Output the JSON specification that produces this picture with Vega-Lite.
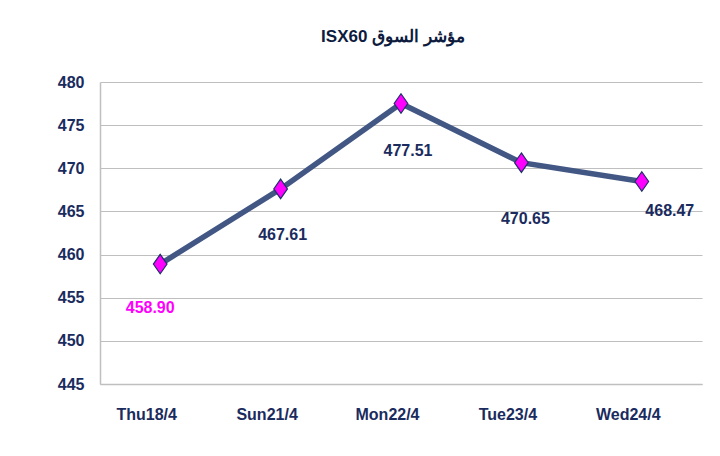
{
  "$schema": "https://vega.github.io/schema/vega-lite/v6.json",
  "autosize": "none",
  "width": 602,
  "height": 302,
  "padding": {"left": 100, "top": 82, "right": 18, "bottom": 72},
  "background": "white",
  "title": {
    "text": "ISX60  مؤشر السوق",
    "anchor": "middle",
    "offset": 28,
    "fontSize": 17,
    "font": "Liberation Sans",
    "fontWeight": "bold",
    "color": "#0d1b3e",
    "dx": -8
  },
  "config": {
    "view": {"stroke": null},
    "font": "Liberation Sans"
  },
  "data": {
    "values": [
      {"day": "Thu18/4", "value": 458.90},
      {"day": "Sun21/4", "value": 467.61},
      {"day": "Mon22/4", "value": 477.51},
      {"day": "Tue23/4", "value": 470.65},
      {"day": "Wed24/4", "value": 468.47}
    ]
  },
  "encoding": {
    "x": {
      "field": "day",
      "type": "ordinal",
      "sort": null,
      "scale": {"type": "point", "padding": 0.5},
      "axis": {
        "title": null,
        "labelAngle": 0,
        "labelFontSize": 16,
        "labelFontWeight": "bold",
        "labelColor": "#1a2b5e",
        "labelPadding": 22,
        "labelOffset": -14,
        "ticks": false,
        "domainColor": "#bfbfbf",
        "domainWidth": 1.5,
        "grid": false
      }
    },
    "y": {
      "field": "value",
      "type": "quantitative",
      "scale": {"domain": [445, 480], "zero": false, "nice": false},
      "axis": {
        "title": null,
        "values": [445, 450, 455, 460, 465, 470, 475, 480],
        "labelFontSize": 16,
        "labelFontWeight": "bold",
        "labelColor": "#1a2b5e",
        "labelPadding": 16,
        "ticks": false,
        "domainColor": "#bfbfbf",
        "domainWidth": 1.5,
        "gridColor": "#bfbfbf",
        "gridWidth": 1.2
      }
    }
  },
  "layer": [
    {
      "mark": {"type": "line", "color": "#425784", "strokeWidth": 5.5}
    },
    {
      "mark": {
        "type": "point",
        "shape": "M0,-1L0.7,0L0,1L-0.7,0Z",
        "size": 380,
        "filled": true,
        "fill": "#ff00ff",
        "stroke": "#1f2f6b",
        "strokeWidth": 1.2,
        "opacity": 1
      }
    },
    {
      "transform": [{"filter": "datum.day == 'Thu18/4'"}],
      "mark": {"type": "text", "dy": 44, "dx": -10, "fontSize": 16, "fontWeight": "bold", "color": "#ff00ff"},
      "encoding": {"text": {"field": "value", "type": "quantitative", "format": ".2f"}}
    },
    {
      "transform": [{"filter": "datum.day == 'Sun21/4'"}],
      "mark": {"type": "text", "dy": 46, "dx": 2, "fontSize": 16, "fontWeight": "bold", "color": "#1a2b5e"},
      "encoding": {"text": {"field": "value", "type": "quantitative", "format": ".2f"}}
    },
    {
      "transform": [{"filter": "datum.day == 'Mon22/4'"}],
      "mark": {"type": "text", "dy": 48, "dx": 7, "fontSize": 16, "fontWeight": "bold", "color": "#1a2b5e"},
      "encoding": {"text": {"field": "value", "type": "quantitative", "format": ".2f"}}
    },
    {
      "transform": [{"filter": "datum.day == 'Tue23/4'"}],
      "mark": {"type": "text", "dy": 56, "dx": 4, "fontSize": 16, "fontWeight": "bold", "color": "#1a2b5e"},
      "encoding": {"text": {"field": "value", "type": "quantitative", "format": ".2f"}}
    },
    {
      "transform": [{"filter": "datum.day == 'Wed24/4'"}],
      "mark": {"type": "text", "dy": 30, "dx": 28, "fontSize": 16, "fontWeight": "bold", "color": "#1a2b5e"},
      "encoding": {"text": {"field": "value", "type": "quantitative", "format": ".2f"}}
    }
  ]
}
